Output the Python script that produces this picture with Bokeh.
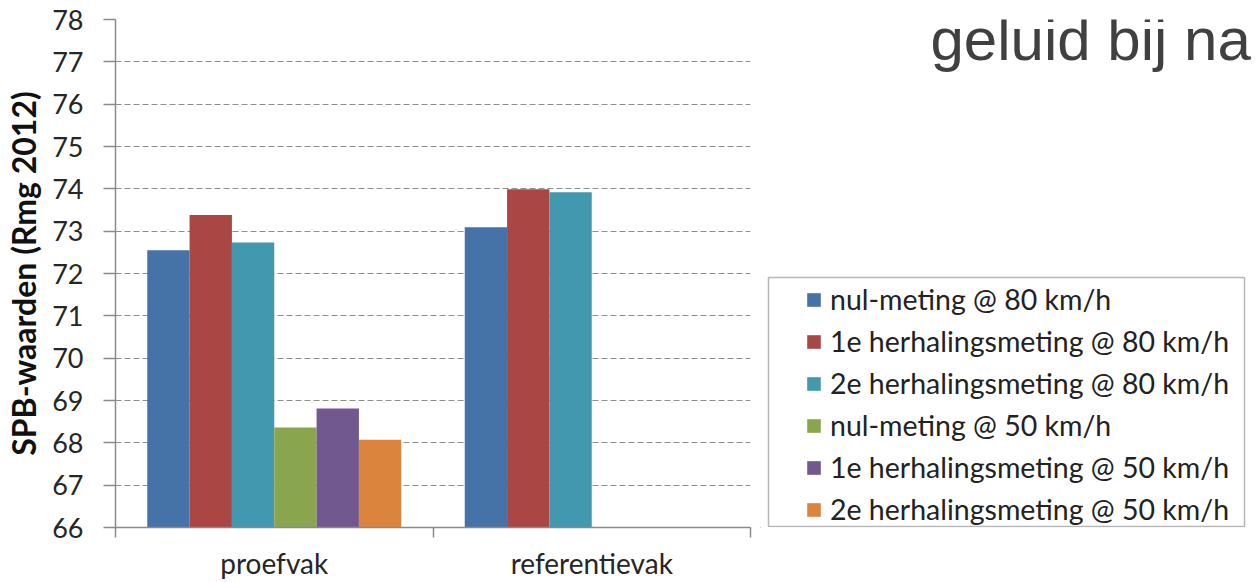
from bokeh.plotting import figure
from bokeh.layouts import row
from bokeh.models import (ColumnDataSource, FixedTicker, Legend, LegendItem, Label,
                          BoxAnnotation, Range1d)
from bokeh.embed import file_html
from bokeh.resources import INLINE

# ---- data ----
categories = ["proefvak", "referentievak"]
series = ["nul-meting @ 80 km/h", "1e herhalingsmeting @ 80 km/h",
          "2e herhalingsmeting @ 80 km/h", "nul-meting @ 50 km/h",
          "1e herhalingsmeting @ 50 km/h", "2e herhalingsmeting @ 50 km/h"]
colors = ["#4572A7", "#AA4643", "#4198AF", "#89A54E", "#71588F", "#DB843D"]
proefvak = [72.55, 73.38, 72.73, 68.36, 68.81, 68.07]
referentievak = [73.09, 73.99, 73.92, None, None, None]
y_ticks = list(range(66, 79))
y_min, y_max = 66, 78
title_text = "geluid bij na"
title_fragment = "jg"
y_label = "SPB-waarden (Rmg 2012)"

H = 582
WA = 760
WB = 1259 - WA

# ---------------- chart figure ----------------
p = figure(width=WA, height=H, output_backend="svg", toolbar_location=None,
           x_range=Range1d(0, len(categories)), y_range=Range1d(y_min, y_max),
           min_border_left=115, min_border_right=WA - 750, min_border_top=19,
           min_border_bottom=H - 527)
p.outline_line_color = None
p.background_fill_color = "white"
p.border_fill_color = "white"

n = len(series)
group_w = 0.8
bar_w = group_w / n
for i, name in enumerate(series):
    vals = [proefvak[i], referentievak[i]]
    xs, tops = [], []
    for c, v in enumerate(vals):
        if v is not None:
            xs.append(c + (1 - group_w) / 2 + (i + 0.5) * bar_w)
            tops.append(v)
    src = ColumnDataSource(dict(x=xs, top=tops))
    p.vbar(x="x", top="top", bottom=y_min, width=bar_w, source=src,
           fill_color=colors[i], line_color=None)

p.xgrid.visible = False
p.ygrid.ticker = FixedTicker(ticks=y_ticks)
p.ygrid.grid_line_color = "#8f8f8f"
p.ygrid.grid_line_dash = "6 3"
p.ygrid.grid_line_width = 1

axis_col = "#8a8a8a"
ya = p.yaxis[0]
ya.ticker = FixedTicker(ticks=y_ticks)
ya.axis_line_color = axis_col
ya.axis_line_width = 1.5
ya.major_tick_line_color = axis_col
ya.major_tick_line_width = 1.5
ya.major_tick_out = 12
ya.major_tick_in = 0
ya.minor_tick_line_color = None
ya.major_label_text_font = "Lato"
ya.major_label_text_font_size = "27px"
ya.major_label_text_color = "#262626"
ya.major_label_standoff = 20
ya.axis_label = y_label
ya.axis_label_text_font = "Lato"
ya.axis_label_text_font_style = "bold"
ya.axis_label_text_font_size = "32px"
ya.axis_label_text_color = "#111111"
ya.axis_label_standoff = 6

xa = p.xaxis[0]
xa.ticker = FixedTicker(ticks=[c + 0.5 for c in range(len(categories))],
                        minor_ticks=list(range(len(categories) + 1)))
xa.major_label_overrides = {c + 0.5: name for c, name in enumerate(categories)}
xa.axis_line_color = axis_col
xa.axis_line_width = 1.5
xa.major_tick_line_color = None
xa.major_tick_out = 0
xa.major_tick_in = 0
xa.minor_tick_line_color = axis_col
xa.minor_tick_line_width = 1.5
xa.minor_tick_out = 10
xa.minor_tick_in = 0
xa.major_label_text_font = "Lato"
xa.major_label_text_font_size = "28px"
xa.major_label_text_color = "#262626"
xa.major_label_standoff = 8

# ---------------- legend / title panel ----------------
q = figure(width=WB, height=H, output_backend="svg", toolbar_location=None,
           x_range=Range1d(0, 1), y_range=Range1d(0, 1),
           x_axis_location=None, y_axis_location=None,
           min_border_left=0, min_border_right=0, min_border_top=0,
           min_border_bottom=0)
q.grid.visible = False
q.outline_line_color = None
q.background_fill_color = "white"
q.border_fill_color = "white"

# legend swatches: one off-range point per series so the legend has a glyph to draw
dummy = []
for i, name in enumerate(series):
    r = q.vbar(x=[-5], top=[-5], bottom=-6, width=0.1, fill_color=colors[i], line_color=None)
    dummy.append(r)

legend = Legend(items=[LegendItem(label=s, renderers=[r]) for s, r in zip(series, dummy)],
                location=(45, 0), orientation="vertical")
legend.padding = 0
legend.margin = 0
legend.spacing = 6
legend.label_height = 36
legend.glyph_height = 17
legend.glyph_width = 17
legend.label_standoff = 8
legend.label_text_font = "Lato"
legend.label_text_font_size = "28.5px"
legend.label_text_color = "#222222"
legend.border_line_alpha = 0
legend.background_fill_alpha = 0
q.add_layout(legend)

q.add_layout(BoxAnnotation(left=8, right=484, bottom=1, top=250,
                           left_units="screen", right_units="screen",
                           bottom_units="screen", top_units="screen",
                           fill_alpha=0, line_color="#111111", line_width=1.5))

q.add_layout(Label(x=170, y=488, x_units="screen", y_units="screen",
                   text=title_text, text_font="Liberation Sans",
                   text_font_size="60px", text_color="#404040",
                   text_baseline="alphabetic"))
q.add_layout(Label(x=367, y=553, x_units="screen", y_units="screen",
                   text=title_fragment, text_font="Liberation Sans",
                   text_font_size="60px", text_color="#404040",
                   text_baseline="alphabetic"))

layout = row(p, q, spacing=0)
open("out.html", "w").write(file_html(layout, INLINE))
